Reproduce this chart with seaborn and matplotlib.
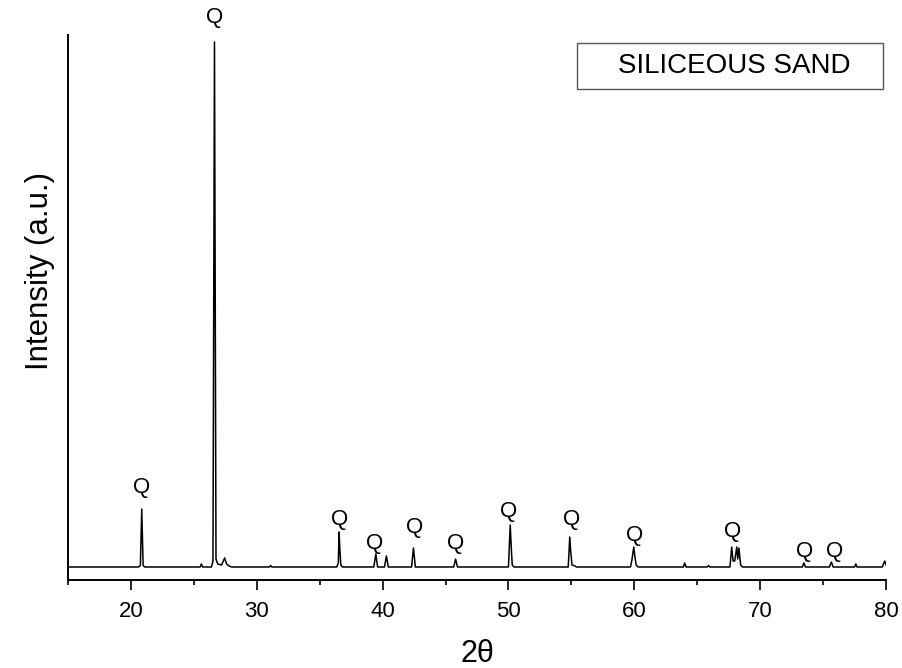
import matplotlib
matplotlib.use("Agg")
import matplotlib.pyplot as plt
import seaborn as sns
import pandas as pd
from matplotlib.patches import Rectangle

# ---- data (2-theta in degrees, intensity in a.u.) ----
two_theta = [
    15.0, 20.6, 20.75, 20.86, 20.97, 21.1,
    25.5, 25.6, 25.7,
    26.4, 26.52, 26.64, 26.76, 26.9, 27.2, 27.45, 27.6, 27.8, 28.0,
    31.0, 31.1, 31.2,
    36.35, 36.48, 36.54, 36.6, 36.68, 36.8,
    39.3, 39.46, 39.6,
    40.15, 40.3, 40.45,
    42.3, 42.45, 42.6,
    45.65, 45.8, 45.95,
    50.0, 50.14, 50.22, 50.3, 50.45,
    54.75, 54.87, 54.95, 55.05, 55.3, 55.4,
    59.7, 59.82, 59.96, 60.05, 60.15, 60.3,
    63.9, 64.0, 64.12,
    65.8, 65.9, 66.0,
    67.6, 67.74, 67.85, 67.98, 68.14, 68.22, 68.31, 68.45, 68.6,
    73.35, 73.47, 73.6,
    75.5, 75.66, 75.8,
    77.5, 77.6, 77.7,
    79.7, 79.9, 80.0,
]
intensity = [
    0, 0, 15, 580, 15, 0,
    0, 30, 0,
    0, 60, 5250, 80, 30, 20, 90, 30, 10, 0,
    0, 15, 0,
    0, 40, 350, 180, 20, 0,
    0, 130, 0,
    0, 110, 0,
    0, 190, 0,
    0, 80, 0,
    0, 420, 200, 20, 0,
    0, 300, 150, 20, 10, 0,
    0, 80, 200, 100, 20, 0,
    0, 40, 0,
    0, 15, 0,
    0, 200, 60, 60, 200, 80, 190, 20, 0,
    0, 40, 0,
    0, 50, 0,
    0, 30, 0,
    0, 60, 20,
]

# peak labels (x, y in data units)
q_x = [20.86, 26.64, 36.6, 39.35, 42.55, 45.8, 50.05, 55.0, 60.0, 67.85, 73.5, 75.95]
q_y = [790, 5490, 470, 240, 400, 230, 550, 470, 320, 350, 160, 160]
q_text = ["Q"] * len(q_x)

x_ticks = [20, 30, 40, 50, 60, 70, 80]
legend_label = "SILICEOUS SAND"

df = pd.DataFrame({"2theta": two_theta, "Intensity": intensity})

sns.set_style("ticks")
plt.rcParams["font.family"] = ["Liberation Sans", "DejaVu Sans"]
plt.rcParams["text.color"] = "black"
plt.rcParams["axes.labelcolor"] = "black"
plt.rcParams["xtick.color"] = "black"
plt.rcParams["ytick.color"] = "black"

fig = plt.figure(figsize=(9.02, 6.68), dpi=100)
ax = fig.add_axes([68 / 902, 1 - 580 / 668, (886 - 68) / 902, (580 - 35) / 668])

sns.lineplot(data=df, x="2theta", y="Intensity", ax=ax, color="black",
             linewidth=1.1, sort=False, estimator=None)

ax.set_xlim(15, 80)
ax.set_ylim(-130, 5320)
ax.set_xticks(x_ticks)
ax.set_xticks([15, 25, 35, 45, 55, 65, 75], minor=True)
ax.set_xticklabels([str(t) for t in x_ticks], fontsize=16, color="black")
ax.set_yticks([])
ax.tick_params(axis="x", which="major", direction="out", length=7, width=1.2, pad=8)
ax.tick_params(axis="x", which="minor", direction="out", length=3.5, width=1.2)

for s in ["top", "right"]:
    ax.spines[s].set_visible(False)
for s in ["left", "bottom"]:
    ax.spines[s].set_linewidth(1.4)
    ax.spines[s].set_color("black")

ax.set_xlabel("2θ", fontsize=22, labelpad=12, color="black")
ax.set_ylabel("Intensity (a.u.)", fontsize=22.5, color="black")
ax.yaxis.set_label_coords(-0.016, 0.567)

for x, y, t in zip(q_x, q_y, q_text):
    ax.text(x, y, t, ha="center", va="center", fontsize=16, color="black",
            clip_on=False)

ax.add_patch(Rectangle((0.622, 0.901), 0.374, 0.084, transform=ax.transAxes,
                       fill=False, edgecolor="#555555", linewidth=1.0, clip_on=False))
ax.text(0.814, 0.944, legend_label, transform=ax.transAxes, ha="center",
        va="center", fontsize=20, color="black")

fig.savefig("out.png", dpi=100)
